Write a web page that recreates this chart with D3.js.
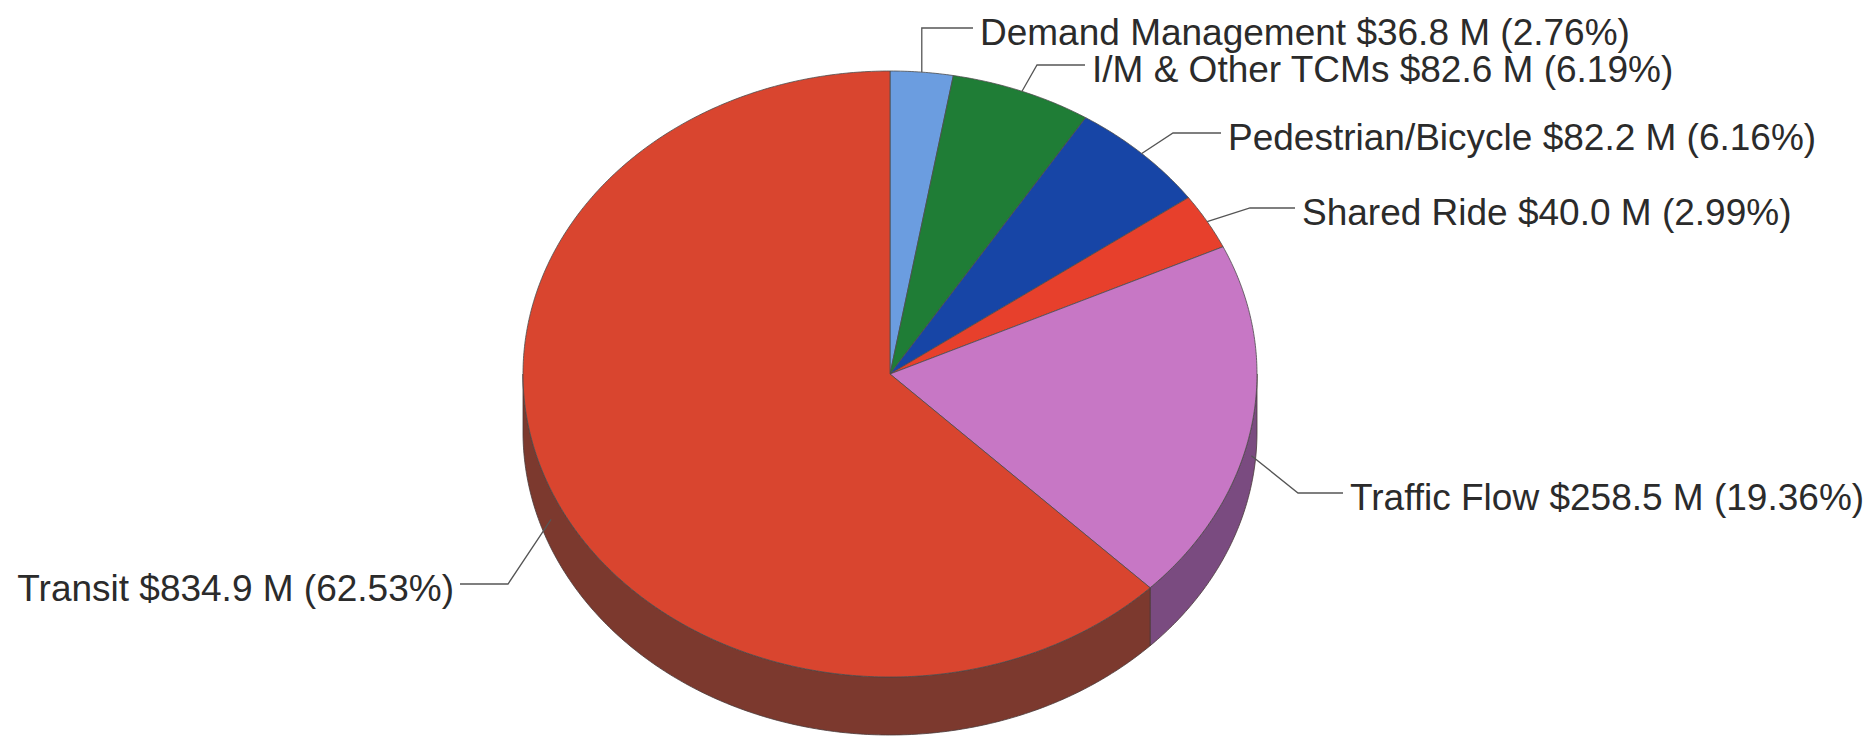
<!DOCTYPE html>
<html><head><meta charset="utf-8">
<script src="https://cdn.jsdelivr.net/npm/d3@7/dist/d3.min.js"></script>
<style>
html,body{margin:0;padding:0;background:#fff;}
svg{display:block;}
</style></head>
<body>
<svg id="chart" width="1873" height="737"></svg>
<script>
// ---- data ----
const categories = ["Demand Management","I/M & Other TCMs","Pedestrian/Bicycle","Shared Ride","Traffic Flow","Transit"];
const amounts = [36.8, 82.6, 82.2, 40.0, 258.5, 834.9];   // $ millions
const percents = [2.76, 6.19, 6.16, 2.99, 19.36, 62.53];

// ---- styles ----
const topColors  = ["#6b9de0","#1f7d36","#1745a6","#e7402c","#c777c5","#d9452f"];
const sideColors = ["#3f5f8a","#134d22","#0e2a66","#8a2a1e","#7a4b80","#7c392e"];

// ---- layout ----
const W = 1873, H = 737;
const cx = 890, cy = 374, rx = 367, ry = 303, depth = 58;
// label placement: text x, baseline, elbow x (null = straight up from anchor), anchor on side wall?
const labelLayout = [
  {x: 980,  base: 45,  elbowX: null, side: false, anchor: "start"},
  {x: 1092, base: 82,  elbowX: 1037, side: false, anchor: "start"},
  {x: 1228, base: 150, elbowX: 1173, side: false, anchor: "start"},
  {x: 1302, base: 225, elbowX: 1250, side: false, anchor: "start"},
  {x: 1350, base: 510, elbowX: 1298, side: true,  anchor: "start"},
  {x: 454,  base: 601, elbowX: 508,  side: true,  anchor: "end"}
];

const data = categories.map((c,i)=>({cat:c, amt:amounts[i], pct:percents[i], i}));
const pie = d3.pie().value(d=>d.pct).sort(null).startAngle(0).endAngle(2*Math.PI);
const arcs = pie(data);

const xs = d3.scaleLinear().domain([-1,1]).range([cx-rx, cx+rx]);
const ys = d3.scaleLinear().domain([-1,1]).range([cy-ry, cy+ry]);
const pt = (a, dy=0) => [xs(Math.sin(a)), ys(-Math.cos(a)) + dy];

function arcPoints(a0, a1, dy=0){
  const n = Math.max(2, Math.ceil(Math.abs(a1-a0)/0.01));
  return d3.range(n+1).map(k => pt(a0 + (a1-a0)*k/n, dy));
}

const svg = d3.select("#chart");
const line = d3.line();

// side walls (front half: pi/2 .. 3pi/2)
const gSide = svg.append("g");
arcs.forEach(a=>{
  const s = Math.max(a.startAngle, Math.PI/2), e = Math.min(a.endAngle, 3*Math.PI/2);
  if (e <= s) return;
  const top = arcPoints(s, e, 0);
  const bot = arcPoints(e, s, depth);
  gSide.append("path")
    .attr("d", line(top.concat(bot)) + "Z")
    .attr("fill", sideColors[a.data.i])
    .attr("stroke", "#4a3a3a").attr("stroke-width", 0.8).attr("stroke-linejoin","round");
});

// top faces
const gTop = svg.append("g");
arcs.forEach(a=>{
  const pts = [[cx,cy]].concat(arcPoints(a.startAngle, a.endAngle, 0));
  gTop.append("path")
    .attr("d", line(pts) + "Z")
    .attr("fill", topColors[a.data.i])
    .attr("stroke", "#4d4d4d").attr("stroke-width", 0.8).attr("stroke-linejoin","round");
});

// labels + leaders
const gLab = svg.append("g");
arcs.forEach(a=>{
  const L = labelLayout[a.data.i];
  const mid = (a.startAngle + a.endAngle)/2;
  const anc = pt(mid, L.side ? depth/2 : 0);
  const lineY = L.base - 17;
  const ex = L.elbowX === null ? anc[0] : L.elbowX;
  const endX = L.anchor === "start" ? L.x - 7 : L.x + 6;
  gLab.append("path")
    .attr("d", line([anc, [ex, lineY], [endX, lineY]]))
    .attr("fill","none").attr("stroke","#555").attr("stroke-width",1.3);
  gLab.append("text")
    .attr("x", L.x).attr("y", L.base)
    .attr("text-anchor", L.anchor)
    .attr("font-family", "'Liberation Sans', Arial, sans-serif")
    .attr("font-size", 37)
    .attr("fill", "#2b2b2b")
    .text(`${a.data.cat} $${a.data.amt.toFixed(1)} M (${a.data.pct.toFixed(2)}%)`);
});
</script>
</body></html>
